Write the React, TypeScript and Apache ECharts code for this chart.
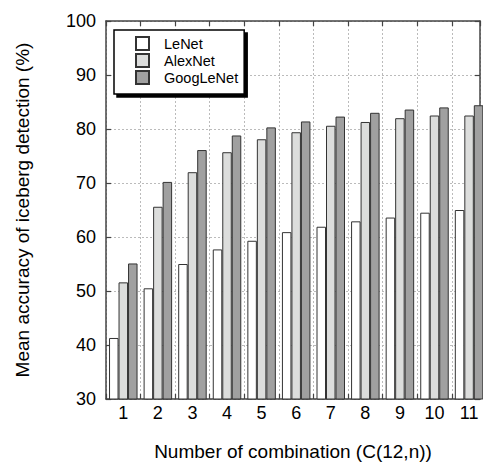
import React, { useEffect, useRef } from "react";
import * as echarts from "echarts";

const categories = ["1", "2", "3", "4", "5", "6", "7", "8", "9", "10", "11"];
const leNet = [41.3, 50.5, 55.0, 57.7, 59.3, 60.9, 61.9, 62.9, 63.6, 64.5, 65.0];
const alexNet = [51.6, 65.6, 72.0, 75.7, 78.1, 79.4, 80.6, 81.3, 82.0, 82.5, 82.5];
const googLeNet = [55.1, 70.2, 76.1, 78.8, 80.3, 81.4, 82.3, 83.0, 83.6, 84.0, 84.4];
const seriesNames = ["LeNet", "AlexNet", "GoogLeNet"];
const seriesColors = ["#ffffff", "#dcdddc", "#a0a0a0"];

const FONT = "'Liberation Sans', Arial, sans-serif";
const X_MIN = 0.5;
const X_MAX = 11.316;

export default function App() {
  const ref = useRef<HTMLDivElement>(null);
  useEffect(() => {
    if (!ref.current) return;
    const chart = echarts.init(ref.current, undefined, { renderer: "svg" });
    const values = [leNet, alexNet, googLeNet];
    const axisLine = { show: true, lineStyle: { color: "#444", width: 1.5 } };
    const tick = { show: true, inside: true, length: 5, lineStyle: { color: "#444", width: 1.2 } };
    const splitLine = { show: true, lineStyle: { color: "#bbb", type: [2, 2], width: 1 } };
    chart.setOption({
      animation: false,
      textStyle: { fontFamily: FONT },
      grid: { left: 106, right: 1, top: 21, bottom: 64, containLabel: false },
      legend: {
        orient: "vertical",
        left: 114,
        top: 30,
        padding: [6, 6, 9, 21],
        itemWidth: 13,
        itemHeight: 13,
        itemGap: 2,
        icon: "rect",
        backgroundColor: "#fff",
        borderColor: "#000",
        borderWidth: 1.5,
        borderRadius: 0,
        shadowColor: "#000",
        shadowBlur: 0,
        shadowOffsetX: 3,
        shadowOffsetY: 3,
        textStyle: { fontSize: 14.5, lineHeight: 14, color: "#000", fontFamily: FONT, padding: [0, 0, 0, 10] },
        data: seriesNames,
      },
      xAxis: [
        {
          type: "value",
          min: X_MIN,
          max: X_MAX,
          interval: 0.5,
          position: "bottom",
          axisLine,
          axisTick: { show: false },
          axisLabel: {
            fontSize: 18,
            color: "#000",
            margin: 5,
            fontFamily: FONT,
            showMinLabel: true,
            showMaxLabel: true,
            formatter: (v: number) => {
              const r = Math.round(v);
              return Math.abs(v - r) < 1e-6 && r >= 1 && r <= categories.length ? categories[r - 1] : "";
            },
          },
          splitLine: { show: false },
          name: "Number of combination (C(12,n))",
          nameLocation: "middle",
          nameGap: 43,
          nameTextStyle: { fontSize: 19, color: "#000", fontFamily: FONT },
        },
        {
          type: "value",
          min: X_MIN,
          max: X_MAX,
          interval: 1,
          position: "bottom",
          axisLine: { show: false },
          axisTick: tick,
          axisLabel: { show: false },
          splitLine,
        },
        {
          type: "value",
          min: X_MIN,
          max: X_MAX,
          interval: 1,
          position: "top",
          axisLine,
          axisTick: tick,
          axisLabel: { show: false },
          splitLine: { show: false },
        },
      ],
      yAxis: [
        {
          type: "value",
          min: 30,
          max: 100,
          interval: 10,
          position: "left",
          axisLine,
          axisTick: tick,
          axisLabel: { fontSize: 18, color: "#000", margin: 10, fontFamily: FONT },
          splitLine,
          name: "Mean accuracy of iceberg detection (%)",
          nameLocation: "middle",
          nameGap: 74,
          nameTextStyle: { fontSize: 19, color: "#000", fontFamily: FONT },
        },
        {
          type: "value",
          min: 30,
          max: 100,
          interval: 10,
          position: "right",
          axisLine,
          axisTick: tick,
          axisLabel: { show: false },
          splitLine: { show: false },
        },
      ],
      series: seriesNames.map((name, i) => ({
        name,
        type: "bar",
        xAxisIndex: 0,
        yAxisIndex: 0,
        clip: true,
        data: values[i].map((v, j) => [j + 1, v]),
        barWidth: 9.5,
        barGap: "0%",
        itemStyle: { color: seriesColors[i], borderColor: "#333", borderWidth: 1 },
      })),
    });
    return () => chart.dispose();
  }, []);
  return <div ref={ref} style={{ position: "fixed", left: 0, top: 0, width: 483, height: 466, background: "#fff" }} />;
}
